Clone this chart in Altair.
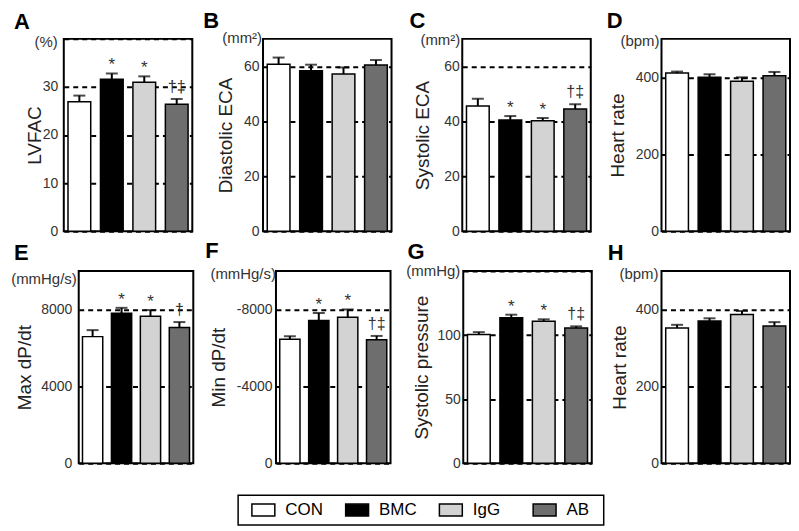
import altair as alt
import pandas as pd

FONT = "Liberation Sans"

groups = ["CON", "BMC", "IgG", "AB"]
fills = ["#ffffff", "#000000", "#d3d3d3", "#6e6e6e"]

# values: mean and mean+SEM (top of error bar)
lvfac_mean = [26.9, 31.6, 31.0, 26.4]
lvfac_err = [28.2, 32.8, 32.2, 27.5]
deca_mean = [60.8, 58.4, 57.2, 60.5]
deca_err = [63.2, 60.6, 59.6, 62.3]
seca_mean = [45.6, 40.5, 40.2, 44.5]
seca_err = [48.2, 41.9, 41.2, 46.2]
hr1_mean = [411, 400, 390, 404]
hr1_err = [415, 408, 400, 414]
maxdp_mean = [6586, 7797, 7645, 7060]
maxdp_err = [6924, 8083, 7967, 7343]
mindp_mean = [6455, 7428, 7596, 6420]
mindp_err = [6606, 7815, 8000, 6622]
sp_mean = [100.5, 113.6, 110.8, 105.5]
sp_err = [102.3, 115.9, 112.3, 106.8]
hr2_mean = [352, 370, 387, 357]
hr2_err = [360, 377, 396, 367]

sig_A = ["", "*", "*", "†‡"]
sig_B = ["", "", "", ""]
sig_C = ["", "*", "*", "†‡"]
sig_D = ["", "", "", ""]
sig_E = ["", "*", "*", "†"]
sig_F = ["", "*", "*", "†‡"]
sig_G = ["", "*", "*", "†‡"]
sig_H = ["", "", "", ""]

ticks_A = [0, 10, 20, 30, 40]
labels_A = [0, 10, 20, 30]
ticks_B = [0, 10, 20, 30, 40, 50, 60, 70]
labels_B = [0, 20, 40, 60]
ticks_D = [0, 100, 200, 300, 400, 500]
labels_D = [0, 200, 400]
ticks_E = [0, 2000, 4000, 6000, 8000, 10000]
labels_E = [0, 4000, 8000]
ticks_G = [0, 50, 100, 150]
labels_G = [0, 50, 100]

PH = 193


def anchor(ax, top):
    # invisible zero-width rule that fixes the panel's left/top extent for layout
    return alt.Chart(pd.DataFrame({"a": [0]})).mark_rule(
        strokeWidth=0, opacity=0).encode(
        x=alt.value(-ax), y=alt.value(-top), y2=alt.value(0))


def spacer():
    return alt.Chart(pd.DataFrame({"a": [0]})).mark_rule(
        strokeWidth=0, opacity=0).encode(
        x=alt.value(0), y=alt.value(0), y2=alt.value(1)).properties(
        width=1, height=1, view=alt.ViewBackground(strokeOpacity=0))


def panel(letter, unit, ytitle, mean, err, sig, ticks, labels, neg, width,
          title_x, label_pad, letter_pos, unit_pos, ax, top):
    df = pd.DataFrame({"group": groups, "mean": mean, "err": err, "sig": sig})
    lab_list = ",".join(str(v) for v in labels)
    if neg:
        expr = ("indexof([%s], datum.value) >= 0 ? (datum.value == 0 ? '0' : '-' + datum.label) : ''"
                % lab_list)
    else:
        expr = "indexof([%s], datum.value) >= 0 ? datum.label : ''" % lab_list
    xenc = alt.X("group:N", sort=groups, axis=None,
                 scale=alt.Scale(paddingInner=0.3, paddingOuter=0.13))
    yscale = alt.Scale(domain=[0, ticks[-1]], nice=False)
    yaxis = alt.Axis(values=ticks, labelExpr=expr, format="d", grid=True,
                     gridDash=[5, 4], gridColor="#000000", gridWidth=2,
                     ticks=False, tickSize=0, domain=False,
                     labelPadding=label_pad, labelFontSize=14, labelFont=FONT,
                     labelColor="#333333", title=ytitle, titleFont=FONT,
                     titleFontSize=19, titleFontWeight="normal",
                     titleColor="#222222", titleX=title_x,
                     titleBaseline="middle")
    base = alt.Chart(df)
    bars = base.mark_bar(stroke="black", strokeWidth=1.5).encode(
        x=xenc,
        y=alt.Y("mean:Q", scale=yscale, axis=yaxis, title=ytitle),
        fill=alt.Fill("group:N", scale=alt.Scale(domain=groups, range=fills),
                      legend=None),
    )
    rule = base.mark_rule(color="black", strokeWidth=2).encode(
        x=xenc, y=alt.Y("mean:Q", title=ytitle), y2="err:Q")
    cap = base.mark_tick(color="black", thickness=2, size=12).encode(
        x=xenc, y=alt.Y("err:Q", title=ytitle))
    stars = base.transform_filter("datum.sig == '*'").mark_text(
        baseline="alphabetic", dy=-3, font=FONT, fontSize=17,
        color="#333333").encode(x=xenc, y=alt.Y("err:Q", title=ytitle),
                                text="sig:N")
    daggers = base.transform_filter("datum.sig != '*' && datum.sig != ''").mark_text(
        baseline="alphabetic", dy=-7, font=FONT, fontSize=16,
        color="#333333").encode(x=xenc, y=alt.Y("err:Q", title=ytitle),
                                text="sig:N")
    let = alt.Chart(pd.DataFrame({"t": [letter]})).mark_text(
        align="left", baseline="alphabetic", font=FONT, fontSize=22,
        fontWeight="bold", color="black").encode(
        text="t:N", x=alt.value(letter_pos[0]), y=alt.value(letter_pos[1]))
    un = alt.Chart(pd.DataFrame({"t": [unit]})).mark_text(
        align="right", baseline="middle", font=FONT, fontSize=15,
        color="#333333").encode(
        text="t:N", x=alt.value(unit_pos[0]), y=alt.value(unit_pos[1]))
    return alt.layer(bars, rule, cap, stars, daggers, let, un,
                     anchor(ax, top)).properties(width=width, height=PH)


T1 = 26
T2 = 30
A = panel("A", "(%)", "LVFAC", lvfac_mean, lvfac_err, sig_A, ticks_A, labels_A,
          False, 129, -29, 6, (-50, -10), (-6, 3), 54, T1)
B = panel("B", "(mm²)", "Diastolic ECA", deca_mean, deca_err, sig_B, ticks_B,
          labels_B, False, 129, -38, 4, (-60, -11), (-1, -1), 69, T1)
C = panel("C", "(mm²)", "Systolic ECA", seca_mean, seca_err, sig_C, ticks_B,
          labels_B, False, 129, -40, 3, (-53, -11), (-2, 1), 69, T1)
D = panel("D", "(bpm)", "Heart rate", hr1_mean, hr1_err, sig_D, ticks_D,
          labels_D, False, 129, -44, 3, (-55, -11), (-2, 2), 69, T1)
E = panel("E", "(mmHg/s)", "Max dP/dt", maxdp_mean, maxdp_err, sig_E, ticks_E,
          labels_E, False, 115, -54, 7, (-65, -11), (-2, 8), 69, T2)
F = panel("F", "(mmHg/s)", "Min dP/dt", mindp_mean, mindp_err, sig_F, ticks_E,
          labels_E, True, 115, -58, 4, (-71, -13), (0, 3), 81, T2)
G = panel("G", "(mmHg)", "Systolic pressure", sp_mean, sp_err, sig_G, ticks_G,
          labels_G, False, 129, -42, 3, (-56, -12), (-3, 0), 71, T2)
Hh = panel("H", "(bpm)", "Heart rate", hr2_mean, hr2_err, sig_H, ticks_D,
           labels_D, False, 129, -42, 3, (-54, -11), (-3, 3), 68, T2)

# legend
leg_df = pd.DataFrame({"group": groups})
lx = alt.X("group:N", sort=groups, axis=None,
           scale=alt.Scale(type="point", padding=0.45))
sym = alt.Chart(leg_df).mark_point(
    shape="M-1,-0.52H1V0.52H-1Z", size=529, filled=True, stroke="black",
    strokeWidth=1.5, opacity=1, xOffset=-17).encode(
    x=lx, y=alt.value(15),
    fill=alt.Fill("group:N", scale=alt.Scale(domain=groups, range=fills),
                  legend=None))
ltxt = alt.Chart(leg_df).mark_text(
    align="left", baseline="middle", dx=5, font=FONT, fontSize=17,
    color="black").encode(x=lx, y=alt.value(15), text="group:N")
legend = alt.layer(sym, ltxt, anchor(229, 23)).properties(
    width=367, height=30,
    view=alt.ViewBackground(stroke="black", strokeWidth=1.5))

row1 = alt.hconcat(spacer(), A, B, C, D, spacing=0)
row2 = alt.hconcat(spacer(), E, F, G, Hh, spacing=0)
row3 = alt.hconcat(spacer(), legend, spacing=0)

chart = alt.vconcat(row1, row2, row3, spacing=0).properties(
    padding=0, background="white"
).configure_view(stroke="black", strokeWidth=2)

chart.save("out.html", embed_options={"renderer": "svg", "actions": False})
